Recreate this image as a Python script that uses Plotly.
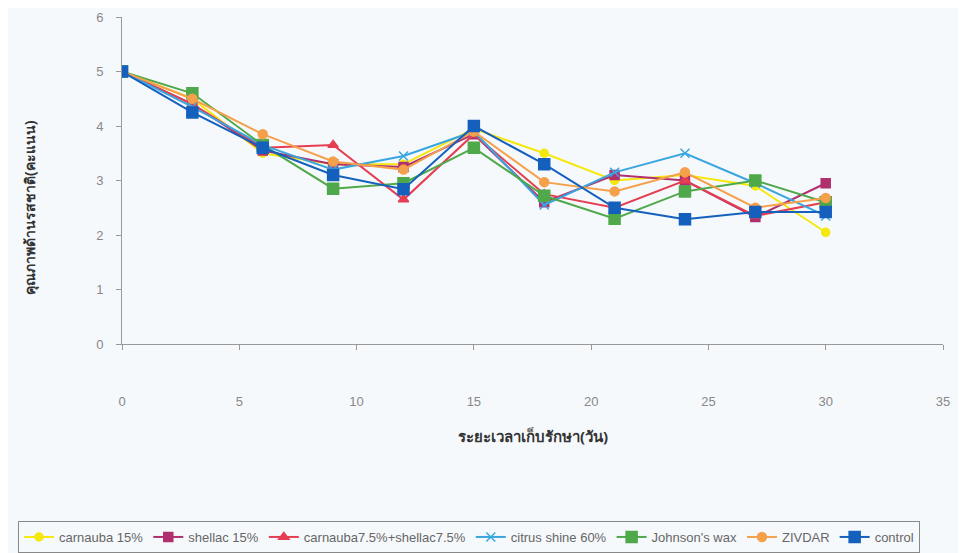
import plotly.graph_objects as go

days = [0, 3, 6, 9, 12, 15, 18, 21, 24, 27, 30]

carnauba15 = [5, 4.5, 3.5, 3.3, 3.3, 3.95, 3.5, 3.0, 3.1, 2.9, 2.05]
shellac15 = [5, 4.4, 3.55, 3.3, 3.25, 3.85, 2.6, 3.1, 3.0, 2.33, 2.95]
carn_shel = [5, 4.4, 3.6, 3.65, 2.65, 3.85, 2.75, 2.5, 3.0, 2.35, 2.6]
citrus60 = [5, 4.35, 3.65, 3.2, 3.45, 3.9, 2.55, 3.15, 3.5, 2.95, 2.35]
johnson = [5, 4.6, 3.65, 2.85, 2.95, 3.6, 2.72, 2.3, 2.8, 3.0, 2.6]
zivdar = [5, 4.5, 3.85, 3.35, 3.2, 3.9, 2.97, 2.8, 3.15, 2.5, 2.68]
control = [5, 4.25, 3.6, 3.1, 2.84, 4.0, 3.3, 2.5, 2.29, 2.42, 2.42]

series_names = ["carnauba 15%", "shellac 15%", "carnauba7.5%+shellac7.5%",
                "citrus shine 60%", "Johnson's wax", "ZIVDAR", "control"]
series_values = [carnauba15, shellac15, carn_shel, citrus60, johnson, zivdar, control]
colors = ["#F5E80F", "#B0306E", "#E53E52", "#3AA6E0", "#4FA84A", "#F5A04A", "#1560BD"]
symbols = ["circle", "square", "triangle-up", "x-thin", "square", "circle", "square"]
sizes = [8, 9, 9, 9, 11, 9, 11]

x_ticks = [0, 5, 10, 15, 20, 25, 30, 35]
y_ticks = [0, 1, 2, 3, 4, 5, 6]

# page body has an 8px margin; target pixel positions compensated below
OFF = 8
L, T, R, B = 122 - OFF, 17 - OFF, 943 - OFF, 345 - OFF
W, H = 966, 553
PW, PH = R - L, B - T

fig = go.Figure()
for name, vals, c, s, sz in zip(series_names, series_values, colors, symbols, sizes):
    fig.add_trace(go.Scatter(
        x=days, y=vals, name=name, mode="lines+markers",
        line=dict(color=c, width=2),
        marker=dict(symbol=s, size=sz, color=c, line=dict(color=c, width=1.5)),
    ))

axis_font = dict(family="Liberation Sans, Arial, sans-serif", size=13, color="#888")

fig.update_layout(
    width=W, height=H,
    margin=dict(l=L, r=W - R, t=T, b=H - B),
    paper_bgcolor="#F6F9FC", plot_bgcolor="#F6F9FC",
    showlegend=True,
    legend=dict(orientation="h", xref="paper", yref="paper",
                x=-(L - 10) / PW, xanchor="left", y=(345 - 521) / PH, yanchor="top",
                font=dict(family="Liberation Sans, Arial, sans-serif", size=13, color="#666"),
                bordercolor="#888", borderwidth=1, bgcolor="#F6F9FC",
                itemwidth=30, tracegroupgap=0),
    xaxis=dict(range=[0, 35], tickvals=x_ticks, showgrid=False, zeroline=False,
               showline=True, linecolor="#999", linewidth=1, ticks="outside", ticklen=5,
               tickcolor="#999", tickfont=axis_font, ticklabelstandoff=40, automargin=False),
    yaxis=dict(range=[0, 6], tickvals=y_ticks, showgrid=False, zeroline=False,
               showline=True, linecolor="#999", linewidth=1, ticks="outside", ticklen=5,
               tickcolor="#999", tickfont=axis_font, ticklabelstandoff=10, automargin=False),
)
fig.add_annotation(text="<b>ระยะเวลาเก็บรักษา(วัน)</b>", x=0.5, xref="paper",
                   y=(345 - 437) / PH, yref="paper", yanchor="middle",
                   showarrow=False, font=dict(size=15, color="#333"))
fig.add_annotation(text="<b>คุณภาพด้านรสชาติ(คะแนน)</b>", x=(18 - 122) / PW, xref="paper",
                   y=(345 - 208) / PH, yref="paper", textangle=-90, showarrow=False,
                   font=dict(size=14, color="#333"))

fig.write_html("out.html")
